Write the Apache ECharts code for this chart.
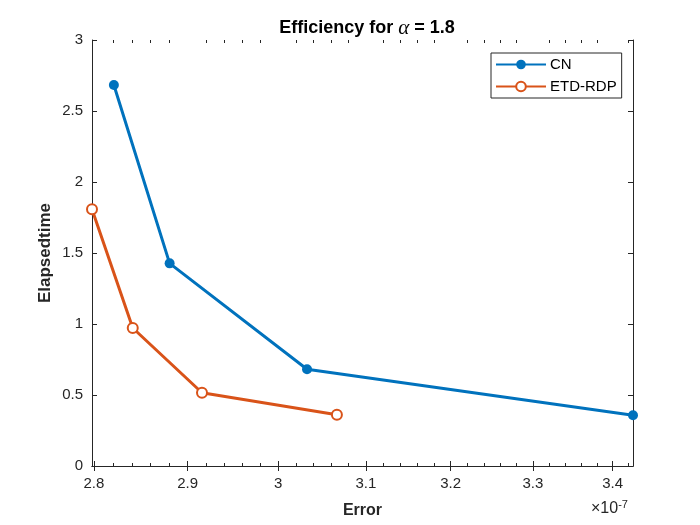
<!DOCTYPE html>
<html>
<head>
<meta charset="utf-8">
<script src="https://cdn.jsdelivr.net/npm/echarts@6/dist/echarts.min.js"></script>
<style>
	html, body { margin: 0; padding: 0; background: #fff; }
	#chart { width: 700px; height: 525px; }
</style>
</head>
<body>
<div id="chart"></div>
<script>
// data
var cnError = [2.821e-7, 2.8805e-7, 3.0325e-7, 3.426e-7];
var cnTime = [2.683, 1.427, 0.681, 0.357];
var etdError = [2.798e-7, 2.841e-7, 2.9156e-7, 3.0666e-7];
var etdTime = [1.808, 0.972, 0.516, 0.361];

var xMin = 2.798e-7;
var xMax = 3.426e-7;
var majorTicks = [2.8e-7, 2.9e-7, 3.0e-7, 3.1e-7, 3.2e-7, 3.3e-7, 3.4e-7];
var minorTicks = [2.82e-7, 2.84e-7, 2.86e-7, 2.88e-7, 2.92e-7, 2.94e-7, 2.96e-7, 2.98e-7,
	3.02e-7, 3.04e-7, 3.06e-7, 3.08e-7, 3.12e-7, 3.14e-7, 3.16e-7, 3.18e-7,
	3.22e-7, 3.24e-7, 3.26e-7, 3.28e-7, 3.32e-7, 3.34e-7, 3.36e-7, 3.38e-7, 3.42e-7];

var axisColor = '#262626';
var fontName = 'Liberation Sans, Arial';
var gridBox = { left: 92, right: 67, top: 40, bottom: 59 };

function pairs(xs, ys) {
	var out = [];
	for (var i = 0; i < xs.length; i++) {
		out.push([xs[i], ys[i]]);
	}
	return out;
}

// semilogx axis; a second grid carries the minor ticks
function xAxisDef(grid, pos, ticks, len, showLabel, showLine) {
	return {
		type: 'log',
		gridIndex: grid,
		position: pos,
		min: xMin,
		max: xMax,
		axisLine: { show: showLine, lineStyle: { color: axisColor, width: 1 } },
		axisTick: { show: true, inside: true, length: len, customValues: ticks,
			lineStyle: { color: axisColor, width: 1 } },
		axisLabel: { show: showLabel, customValues: ticks, color: axisColor,
			fontSize: 15, fontFamily: fontName, margin: 10,
			formatter: function(v) { return String(Number((v * 1e7).toFixed(1))); } },
		splitLine: { show: false },
		minorTick: { show: false }
	};
}

var xBottom = xAxisDef(0, 'bottom', majorTicks, 5, true, true);
xBottom.name = 'Error';
xBottom.nameLocation = 'middle';
xBottom.nameGap = 37;
xBottom.nameTextStyle = { color: axisColor, fontSize: 16, fontWeight: 'bold', fontFamily: fontName };

var myChart = echarts.init(document.getElementById('chart'));
var option = {
	animation: false,
	backgroundColor: '#fff',
	title: {
		text: 'Efficiency for {a|α} = 1.8',
		left: 362,
		textAlign: 'center',
		top: 13,
		textStyle: {
			color: '#000', fontSize: 18, fontWeight: 'bold', fontFamily: fontName,
			rich: { a: { fontFamily: 'Liberation Serif, Times New Roman', fontStyle: 'italic', fontWeight: 'normal', fontSize: 21, color: '#000' } }
		}
	},
	grid: [
		{ left: gridBox.left, right: gridBox.right, top: gridBox.top, bottom: gridBox.bottom },
		{ left: gridBox.left, right: gridBox.right, top: gridBox.top, bottom: gridBox.bottom }
	],
	legend: {
		orient: 'vertical',
		left: 491,
		top: 53,
		padding: [4, 5, 4, 4],
		itemGap: 7,
		itemWidth: 50,
		itemHeight: 12,
		borderColor: axisColor,
		borderWidth: 1,
		borderRadius: 0,
		backgroundColor: '#fff',
		textStyle: { color: '#000', fontSize: 15, fontFamily: fontName, padding: [0, 0, 0, -1] },
		data: ['CN', 'ETD-RDP']
	},
	xAxis: [
		xBottom,
		xAxisDef(0, 'top', majorTicks, 5, false, true),
		xAxisDef(1, 'bottom', minorTicks, 3, false, false),
		xAxisDef(1, 'top', minorTicks, 3, false, false)
	],
	yAxis: [
		{
			type: 'value', gridIndex: 0, position: 'left',
			min: 0, max: 3, interval: 0.5,
			name: 'Elapsedtime', nameLocation: 'middle', nameGap: 38, nameMoveOverlap: false,
			nameTextStyle: { color: axisColor, fontSize: 17, fontWeight: 'bold', fontFamily: fontName },
			axisLine: { show: true, lineStyle: { color: axisColor, width: 1 } },
			axisTick: { show: true, inside: true, length: 5, lineStyle: { color: axisColor } },
			axisLabel: { color: axisColor, fontSize: 15, fontFamily: fontName, margin: 9 },
			splitLine: { show: false }
		},
		{
			type: 'value', gridIndex: 0, position: 'right',
			min: 0, max: 3, interval: 0.5,
			axisLine: { show: true, lineStyle: { color: axisColor, width: 1 } },
			axisTick: { show: true, inside: true, length: 5, lineStyle: { color: axisColor } },
			axisLabel: { show: false },
			splitLine: { show: false }
		},
		{ type: 'value', gridIndex: 1, min: 0, max: 3, show: false }
	],
	graphic: [
		{
			type: 'text',
			left: 591,
			top: 499,
			style: {
				text: '×10{s|-7}',
				fill: axisColor,
				font: '16px "Liberation Sans", Arial',
				rich: { s: { fontSize: 11, verticalAlign: 'top', padding: [0, 0, 9, 0], fill: axisColor } }
			}
		}
	],
	series: [
		{
			name: 'CN',
			type: 'line',
			xAxisIndex: 0,
			yAxisIndex: 0,
			data: pairs(cnError, cnTime),
			symbol: 'circle',
			symbolSize: 10,
			lineStyle: { color: '#0072BD', width: 3 },
			itemStyle: { color: '#0072BD' }
		},
		{
			name: 'ETD-RDP',
			type: 'line',
			xAxisIndex: 0,
			yAxisIndex: 0,
			data: pairs(etdError, etdTime),
			symbol: 'emptyCircle',
			symbolSize: 10,
			lineStyle: { color: '#D95319', width: 3 },
			itemStyle: { color: '#D95319', borderColor: '#D95319', borderWidth: 2.8 }
		}
	]
};
myChart.setOption(option);
</script>
</body>
</html>
